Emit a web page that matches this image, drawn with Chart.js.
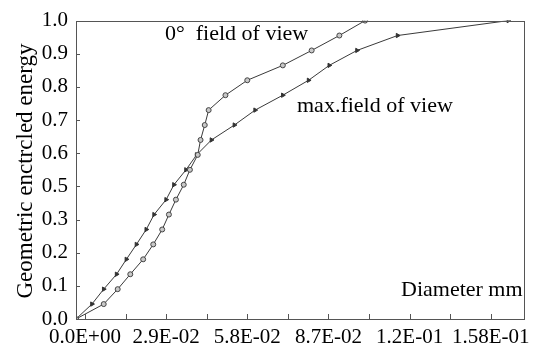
<!DOCTYPE html>
<html><head><meta charset="utf-8">
<script src="https://cdn.jsdelivr.net/npm/chart.js@4.4.1/dist/chart.umd.min.js"></script>
<style>html,body{margin:0;padding:0;background:#fff}#wrap{width:536px;height:350px}</style>
</head><body><div id="wrap"><canvas id="c" width="536" height="350"></canvas></div>
<script>
// Encircled energy levels (shared by both curves)
const energy = [0, 0.05, 0.10, 0.15, 0.20, 0.25, 0.30, 0.35, 0.40, 0.45, 0.50,
                0.55, 0.60, 0.65, 0.70, 0.75, 0.80, 0.85, 0.90, 0.95, 1.00];
// Diameter (mm) for 0° field of view
const diam0 = [0, 0.0099, 0.0149, 0.0194, 0.0240, 0.0276, 0.0308, 0.0332, 0.0357, 0.0385, 0.0407,
               0.0435, 0.0445, 0.0460, 0.0474, 0.0534, 0.0612, 0.0739, 0.0842, 0.0941, 0.1033];
// Diameter (mm) for max. field of view
const diamMax = [0, 0.0057, 0.0099, 0.0145, 0.0180, 0.0216, 0.0251, 0.0279, 0.0322, 0.0350, 0.0393,
                 0.0431, 0.0484, 0.0566, 0.0640, 0.0739, 0.0831, 0.0905, 0.1004, 0.1149, 0.1545];
const xTickLabels = ["0.0E+00", "2.9E-02", "5.8E-02", "8.7E-02", "1.2E-01", "1.58E-01"];
const yTickLabels = ["0.0", "0.1", "0.2", "0.3", "0.5", "0.6", "0.7", "0.8", "0.9", "1.0"];
const xLabelStart = 0.0032, xLabelStep = 0.029;
const seriesNames = ["0\u00B0  field of view", "max.field of view"];
const xTitle = "Diameter mm";
const yTitle = "Geometric enctrcled energy";

const FONT = '"Liberation Serif", "DejaVu Serif", serif';
const INK = '#3a3a3a';

const pts = (xs) => xs.map((x, i) => ({x: x, y: energy[i]}));

const decor = {
  id: 'decor',
  afterDraw(chart) {
    const ctx = chart.ctx, a = chart.chartArea;
    const xs = chart.scales.x, ys = chart.scales.y;
    ctx.save();
    ctx.strokeStyle = '#555';
    ctx.lineWidth = 1;
    ctx.strokeRect(Math.round(a.left) + 0.5, Math.round(a.top) + 0.5,
                   Math.round(a.right - a.left) - 1, Math.round(a.bottom - a.top));
    ctx.beginPath();
    ys.ticks.forEach(t => {
      const p = Math.round(ys.getPixelForValue(t.value)) + 0.5;
      ctx.moveTo(a.left, p); ctx.lineTo(a.left + 4, p);
    });
    for (let i = 0; i < xTickLabels.length * 2 - 1; i++) {
      const v = xLabelStart + i * xLabelStep / 2;
      const p = Math.round(xs.getPixelForValue(v)) + 0.5;
      ctx.moveTo(p, a.bottom); ctx.lineTo(p, a.bottom - 5);
    }
    ctx.stroke();
    ctx.fillStyle = '#000';
    ctx.font = '22px ' + FONT;
    ctx.textBaseline = 'alphabetic';
    ctx.textAlign = 'left';
    ctx.fillText(seriesNames[0], 165, 40);
    ctx.fillText(seriesNames[1], 297, 112);
    ctx.fillText(xTitle, 401, 296);
    ctx.font = '23px ' + FONT;
    ctx.translate(26, 171);
    ctx.rotate(-Math.PI / 2);
    ctx.textAlign = 'center';
    ctx.textBaseline = 'middle';
    ctx.fillText(yTitle, 0, 0);
    ctx.restore();
  }
};

function build() {
new Chart(document.getElementById('c'), {
  type: 'scatter',
  data: {
    datasets: [
      { label: seriesNames[0], data: pts(diam0), showLine: true, tension: 0,
        borderColor: INK, borderWidth: 1, pointStyle: 'circle', pointRadius: 2.5,
        pointBorderColor: '#444', pointBackgroundColor: '#c8c8c8', pointBorderWidth: 1 },
      { label: seriesNames[1], data: pts(diamMax), showLine: true, tension: 0,
        borderColor: INK, borderWidth: 1, pointStyle: 'triangle', pointRotation: 90, pointRadius: 2.5,
        pointBorderColor: '#333', pointBackgroundColor: '#333', pointBorderWidth: 1 }
    ]
  },
  options: {
    responsive: false,
    animation: false,
    layout: { padding: { top: 17, right: 6, left: 0, bottom: 0 } },
    plugins: { legend: { display: false }, tooltip: { enabled: false } },
    scales: {
      x: {
        type: 'linear', min: 0, max: 0.1605,
        grid: { display: false, drawTicks: false }, border: { display: false },
        afterBuildTicks: s => { s.ticks = xTickLabels.map((l, i) => ({ value: xLabelStart + i * xLabelStep })); },
        afterFit: s => { s.height = 31; },
        ticks: { autoSkip: false, maxRotation: 0, padding: 6, color: '#000',
                 font: { family: FONT, size: 21 },
                 callback: (v, i) => xTickLabels[i] }
      },
      y: {
        type: 'linear', min: 0, max: 1,
        grid: { display: false, drawTicks: false }, border: { display: false },
        afterBuildTicks: s => { s.ticks = yTickLabels.map((l, i) => ({ value: i / (yTickLabels.length - 1) })); },
        afterFit: s => { s.width = 76; },
        ticks: { autoSkip: false, padding: 8, color: '#000',
                 font: { family: FONT, size: 21 },
                 callback: (v, i) => yTickLabels[i] }
      }
    }
  },
  plugins: [decor]
});
}
if (document.fonts && document.fonts.load) {
  document.fonts.load('20px "Liberation Serif"').then(build, build);
} else { build(); }
</script></body></html>
